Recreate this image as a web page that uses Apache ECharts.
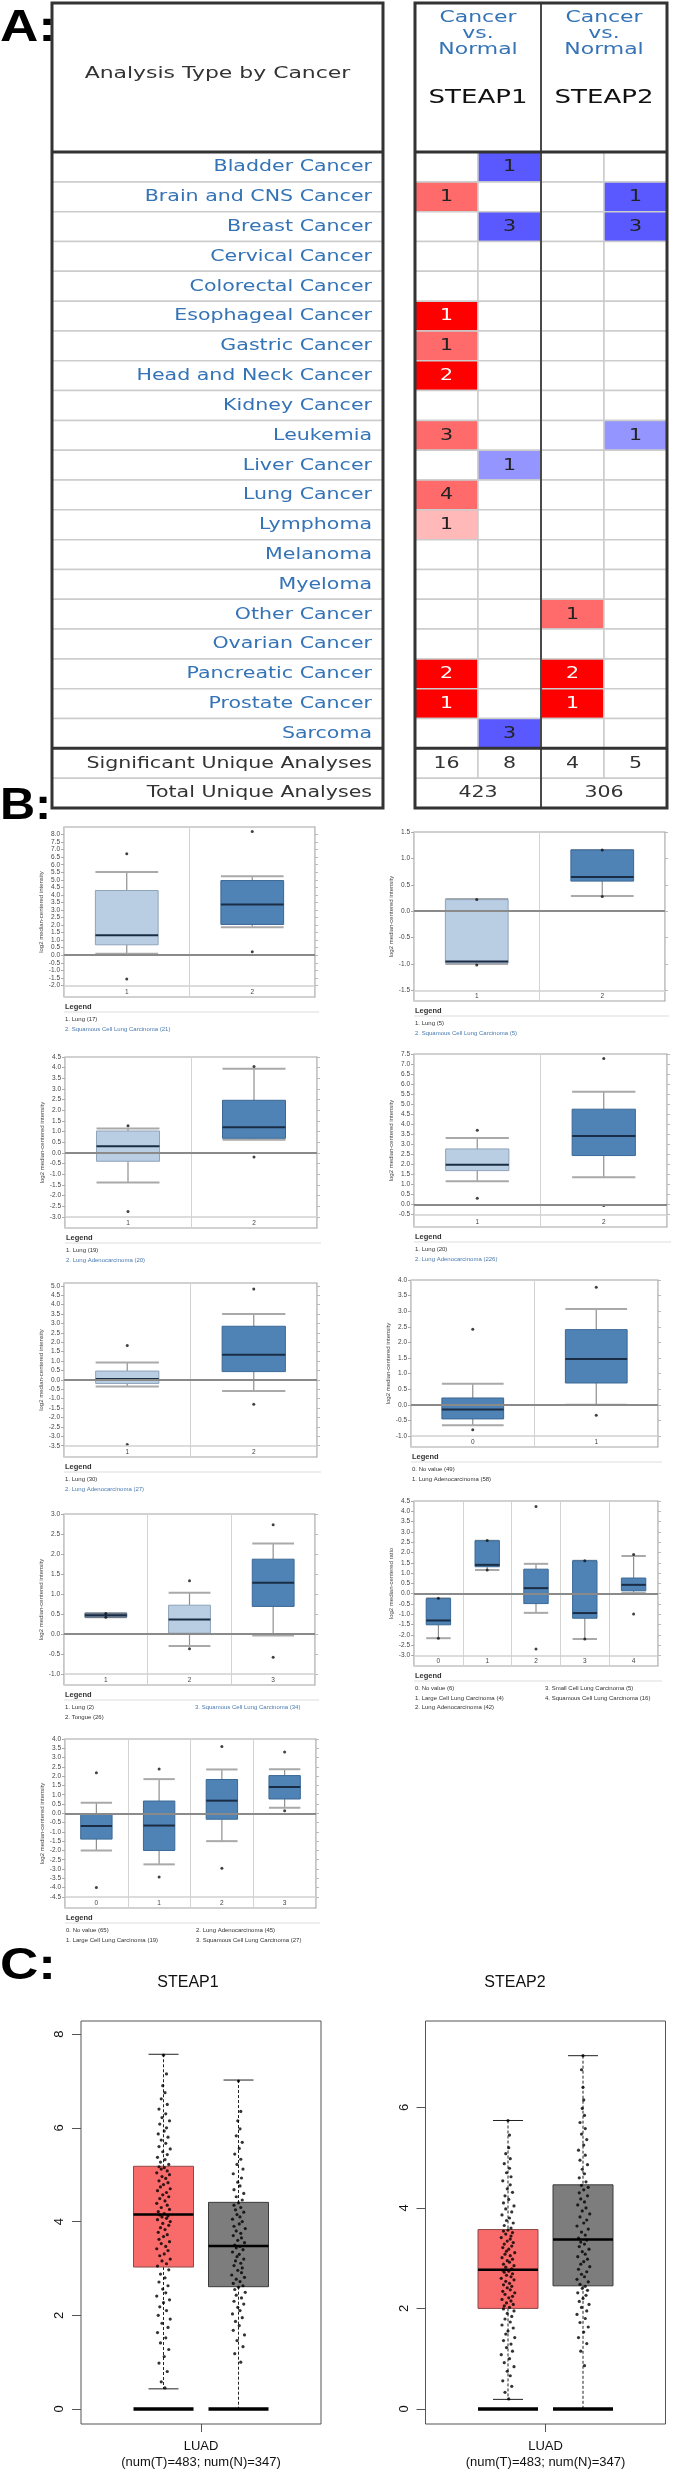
<!DOCTYPE html>
<html>
<head>
<meta charset="utf-8">
<script src="https://cdn.jsdelivr.net/npm/echarts@6/dist/echarts.min.js"></script>
<style>
html,body{margin:0;padding:0;background:#fff;}
#chart{width:680px;height:2480px;}
</style>
</head>
<body>
<div id="chart"></div>
<script>
// ======================= DATA =======================
// ---- Panel A: Oncomine summary (number of significant analyses) ----
const cancerTypes = ['Bladder Cancer','Brain and CNS Cancer','Breast Cancer','Cervical Cancer','Colorectal Cancer',
  'Esophageal Cancer','Gastric Cancer','Head and Neck Cancer','Kidney Cancer','Leukemia','Liver Cancer','Lung Cancer',
  'Lymphoma','Melanoma','Myeloma','Other Cancer','Ovarian Cancer','Pancreatic Cancer','Prostate Cancer','Sarcoma'];
const genes = ['STEAP1','STEAP2'];
const comparison = ['Cancer','vs.','Normal'];
const headerLeft = 'Analysis Type by Cancer';
const summaryLabels = ['Significant Unique Analyses','Total Unique Analyses'];
const steap1Up   = [null,1,null,null,null,1,1,2,null,3,null,4,1,null,null,null,null,2,1,null];
const steap1Down = [1,null,3,null,null,null,null,null,null,null,1,null,null,null,null,null,null,null,null,3];
const steap2Up   = [null,null,null,null,null,null,null,null,null,null,null,null,null,null,null,1,null,2,1,null];
const steap2Down = [null,1,3,null,null,null,null,null,null,1,null,null,null,null,null,null,null,null,null,null];
// gene-rank shade level (1 = top 1%, darkest ... 3 = lightest)
const steap1UpShade   = [0,2,0,0,0,1,2,1,0,2,0,2,3,0,0,0,0,1,1,0];
const steap1DownShade = [1,0,1,0,0,0,0,0,0,0,2,0,0,0,0,0,0,0,0,1];
const steap2UpShade   = [0,0,0,0,0,0,0,0,0,0,0,0,0,0,0,2,0,1,1,0];
const steap2DownShade = [0,1,1,0,0,0,0,0,0,2,0,0,0,0,0,0,0,0,0,0];
const significantUnique = [16,8,4,5];
const totalUnique = [423,306];

// ---- Panel B: Oncomine box plots [min, Q1, median, Q3, max] ----
const yTitleIntensity = 'log2 median-centered intensity';
const yTitleRatio = 'log2 median-centered ratio';

const b1Cats = ['1','2'];
const b1Box = [[0.09,0.69,1.33,4.29,5.52],[1.86,2.04,3.36,4.95,5.24]];
const b1Fill = ['light','dark'];
const b1Outliers = [[0,6.72],[0,-1.58],[1,8.2],[1,0.23]];
const b1Ticks = [-2,-1.5,-1,-0.5,0,0.5,1,1.5,2,2.5,3,3.5,4,4.5,5,5.5,6,6.5,7,7.5,8];
const b1Legend = ['1. Lung (17)','2. Squamous Cell Lung Carcinoma (21)'];

const b2Cats = ['1','2'];
const b2Box = [[-1.0,-0.98,-0.95,0.22,0.23],[0.29,0.57,0.65,1.16,1.16]];
const b2Fill = ['light','dark'];
const b2Outliers = [[0,0.22],[0,-1.02],[1,1.16],[1,0.28]];
const b2Ticks = [-1.5,-1,-0.5,0,0.5,1,1.5];
const b2Legend = ['1. Lung (5)','2. Squamous Cell Lung Carcinoma (5)'];

const b3Cats = ['1','2'];
const b3Box = [[-1.39,-0.39,0.31,1.03,1.15],[0.62,0.69,1.2,2.47,3.95]];
const b3Fill = ['light','dark'];
const b3Outliers = [[0,1.28],[0,-2.75],[1,4.05],[1,-0.19]];
const b3Ticks = [-3,-2.5,-2,-1.5,-1,-0.5,0,0.5,1,1.5,2,2.5,3,3.5,4,4.5];
const b3Legend = ['1. Lung (19)','2. Lung Adenocarcinoma (20)'];

const b4Cats = ['1','2'];
const b4Box = [[1.16,1.69,1.98,2.77,3.31],[1.36,2.44,3.42,4.75,5.62]];
const b4Fill = ['light','dark'];
const b4Outliers = [[0,3.7],[0,0.31],[1,7.28],[1,-0.05]];
const b4Ticks = [-0.5,0,0.5,1,1.5,2,2.5,3,3.5,4,4.5,5,5.5,6,6.5,7,7.5];
const b4Legend = ['1. Lung (20)','2. Lung Adenocarcinoma (226)'];

const b5Cats = ['1','2'];
const b5Box = [[-0.35,-0.19,0.04,0.47,0.93],[-0.59,0.44,1.34,2.85,3.5]];
const b5Fill = ['light','dark'];
const b5Outliers = [[0,1.83],[0,-3.43],[1,4.83],[1,-1.29]];
const b5Ticks = [-3.5,-3,-2.5,-2,-1.5,-1,-0.5,0,0.5,1,1.5,2,2.5,3,3.5,4,4.5,5];
const b5Legend = ['1. Lung (30)','2. Lung Adenocarcinoma (27)'];

const b6Cats = ['0','1'];
const b6Box = [[-0.65,-0.45,-0.15,0.22,0.68],[0.0,0.7,1.47,2.41,3.07]];
const b6Fill = ['dark','dark'];
const b6Outliers = [[0,2.42],[0,-0.8],[1,3.77],[1,-0.33]];
const b6Ticks = [-1,-0.5,0,0.5,1,1.5,2,2.5,3,3.5,4];
const b6Legend = ['0. No value (49)','1. Lung Adenocarcinoma (58)'];

const b7Cats = ['1','2','3'];
const b7Box = [[0.42,0.42,0.47,0.52,0.52],[-0.3,0.02,0.36,0.72,1.03],[-0.04,0.69,1.28,1.87,2.26]];
const b7Fill = ['gray','light','dark'];
const b7Outliers = [[0,0.51],[0,0.42],[1,1.33],[1,-0.37],[2,2.73],[2,-0.58]];
const b7Ticks = [-1,-0.5,0,0.5,1,1.5,2,2.5,3];
const b7Legend = ['1. Lung (2)','2. Tongue (26)','3. Squamous Cell Lung Carcinoma (34)'];

const b8Cats = ['0','1','2','3','4'];
const b8Box = [[-2.16,-1.51,-1.3,-0.24,-0.22],[1.15,1.31,1.4,2.57,2.57],[-0.93,-0.48,0.27,1.19,1.45],[-2.2,-1.19,-0.94,1.6,1.6],[0.03,0.14,0.43,0.76,1.83]];
const b8Fill = ['dark','dark','dark','dark','dark'];
const b8Outliers = [[0,-0.22],[0,-2.16],[1,2.58],[1,1.15],[2,4.23],[2,-2.69],[3,1.6],[3,-2.2],[4,1.9],[4,-0.98]];
const b8Ticks = [-3,-2.5,-2,-1.5,-1,-0.5,0,0.5,1,1.5,2,2.5,3,3.5,4,4.5];
const b8Legend = ['0. No value (6)','1. Large Cell Lung Carcinoma (4)','2. Lung Adenocarcinoma (42)','3. Small Cell Lung Carcinoma (5)','4. Squamous Cell Lung Carcinoma (16)'];

const b9Cats = ['0','1','2','3'];
const b9Box = [[-2.0,-1.39,-0.68,-0.02,0.57],[-2.75,-2.0,-0.66,0.66,1.84],[-1.5,-0.32,0.68,1.82,2.36],[0.3,0.77,1.41,2.03,2.37]];
const b9Fill = ['dark','dark','dark','dark'];
const b9Outliers = [[0,2.18],[0,-4.0],[1,2.39],[1,-3.43],[2,3.6],[2,-2.96],[3,3.3],[3,0.14]];
const b9Ticks = [-4.5,-4,-3.5,-3,-2.5,-2,-1.5,-1,-0.5,0,0.5,1,1.5,2,2.5,3,3.5,4];
const b9Legend = ['0. No value (65)','1. Large Cell Lung Carcinoma (19)','2. Lung Adenocarcinoma (45)','3. Squamous Cell Lung Carcinoma (27)'];

// ---- Panel C: GEPIA LUAD box plots [min, Q1, median, Q3, max]; groups: Tumor, Normal ----
const cohort = 'LUAD';
const numTumor = 483, numNormal = 347;
const c1Title = 'STEAP1', c2Title = 'STEAP2';
const c1Box = [[0.43,3.03,4.15,5.18,7.57],[0,2.61,3.48,4.41,7.02]];
const c2Box = [[0.19,2.0,2.77,3.57,5.74],[0,2.45,3.37,4.46,7.03]];
const c1Zero = [0,0];
const c2Zero = [0,0];
const c1Ticks = [0,2,4,6,8];
const c2Ticks = [0,2,4,6];
// jittered samples [horizontal jitter, expression]
const c1TumorPts = [[.02,0.45],[-.03,0.58],[.05,0.8],[-.06,0.98],[.01,1.12],[.07,1.27],[-.04,1.41],[.03,1.52],[-.08,1.63],[.06,1.74],[-.02,1.83],[.09,1.92],[-.07,2.0],[.04,2.1],[-.05,2.18],[.0,2.27],[.08,2.33],[-.09,2.41],[.03,2.48],[-.01,2.56],[.06,2.63],[-.06,2.71],[.02,2.8],[-.04,2.88],[.07,2.97],
 [-.08,3.05],[.04,3.1],[-.02,3.16],[.09,3.2],[-.05,3.27],[.01,3.31],[.06,3.38],[-.09,3.42],[.03,3.47],[-.03,3.53],[.08,3.57],[-.06,3.62],[.0,3.68],[.05,3.72],[-.07,3.77],[.02,3.83],[-.04,3.87],[.07,3.92],[-.01,3.96],[.09,4.0],[-.08,4.04],[.04,4.07],[-.02,4.1],[.06,4.12],[-.05,4.14],
 [.01,4.17],[-.07,4.21],[.08,4.26],[-.03,4.3],[.05,4.35],[-.09,4.39],[.02,4.44],[-.05,4.49],[.07,4.53],[-.01,4.57],[.04,4.62],[-.08,4.66],[.09,4.7],[-.04,4.74],[.0,4.79],[.06,4.83],[-.06,4.87],[.03,4.92],[-.02,4.96],[.08,5.0],[-.09,5.04],[.05,5.08],[-.03,5.12],[.01,5.15],[-.06,5.17],
 [.07,5.22],[-.04,5.27],[.02,5.32],[-.08,5.37],[.05,5.43],[-.01,5.49],[.09,5.55],[-.06,5.6],[.03,5.67],[-.03,5.74],[.06,5.8],[-.07,5.87],[.01,5.93],[.04,6.0],[-.05,6.08],[.08,6.15],[-.02,6.22],[.03,6.3],[-.06,6.4],[.05,6.5],[-.03,6.62],[.02,6.75],[-.01,6.9],[.04,7.15],[.0,7.55]];
const c1NormalPts = [[.03,1.0],[-.05,1.18],[.06,1.33],[-.02,1.46],[.08,1.58],[-.07,1.68],[.01,1.78],[-.04,1.87],[.05,1.95],[-.08,2.03],[.02,2.1],[-.01,2.17],[.07,2.24],[-.06,2.3],[.04,2.37],[-.03,2.43],[.09,2.49],[-.05,2.55],[.0,2.6],
 [.06,2.63],[-.07,2.68],[.02,2.72],[-.03,2.77],[.08,2.81],[-.09,2.86],[.04,2.91],[-.01,2.96],[.05,3.01],[-.06,3.06],[.03,3.11],[-.04,3.16],[.07,3.2],[-.02,3.25],[.01,3.3],[-.08,3.35],[.06,3.4],[-.03,3.44],[.02,3.47],
 [-.05,3.5],[.08,3.55],[-.01,3.6],[.04,3.65],[-.07,3.7],[.03,3.75],[-.03,3.8],[.09,3.85],[-.06,3.9],[.01,3.95],[.05,4.0],[-.08,4.05],[.02,4.1],[-.02,4.15],[.07,4.2],[-.04,4.25],[.03,4.3],[-.06,4.35],[.0,4.4],
 [.05,4.46],[-.03,4.53],[.07,4.6],[-.06,4.68],[.02,4.76],[-.01,4.84],[.04,4.93],[-.07,5.02],[.06,5.12],[-.02,5.22],[.03,5.33],[-.05,5.44],[.01,5.56],[.05,5.69],[-.03,5.83],[.02,5.98],[-.01,6.15],[.03,6.35],[.0,7.0]];
const c2TumorPts = [[.01,0.2],[-.04,0.33],[.05,0.45],[-.07,0.56],[.03,0.66],[-.01,0.75],[.08,0.84],[-.05,0.92],[.02,1.0],[-.09,1.08],[.06,1.15],[-.02,1.22],[.04,1.29],[-.06,1.36],[.09,1.42],[-.03,1.49],[.0,1.55],[.07,1.61],[-.08,1.67],[.03,1.73],[-.04,1.79],[.05,1.84],[-.01,1.9],[.08,1.95],[-.06,1.99],
 [.02,2.02],[-.05,2.05],[.07,2.08],[-.02,2.11],[.04,2.15],[-.08,2.18],[.01,2.21],[.06,2.24],[-.04,2.28],[.09,2.31],[-.07,2.34],[.03,2.37],[-.01,2.41],[.05,2.44],[-.06,2.47],[.02,2.5],[-.03,2.54],[.08,2.57],[-.09,2.6],[.04,2.63],[-.02,2.66],[.06,2.69],[-.05,2.72],[.01,2.74],[-.07,2.76],
 [.05,2.79],[-.03,2.82],[.08,2.85],[-.06,2.88],[.02,2.92],[-.01,2.95],[.06,2.98],[-.08,3.01],[.03,3.05],[-.04,3.08],[.09,3.11],[-.02,3.14],[.01,3.18],[-.07,3.21],[.05,3.24],[-.05,3.28],[.07,3.31],[-.01,3.34],[.03,3.38],[-.09,3.41],[.04,3.44],[-.03,3.48],[.06,3.51],[-.06,3.54],[.0,3.56],
 [.04,3.6],[-.05,3.65],[.07,3.7],[-.02,3.75],[.02,3.8],[-.08,3.86],[.05,3.92],[-.03,3.98],[.08,4.04],[-.06,4.1],[.01,4.17],[-.04,4.24],[.06,4.31],[-.01,4.38],[.03,4.46],[-.07,4.54],[.04,4.62],[-.02,4.7],[.02,4.79],[-.05,4.88],[.03,4.98],[-.03,5.08],[.01,5.2],[.02,5.45],[.0,5.74]];
const c2NormalPts = [[.02,0.86],[-.03,1.15],[.05,1.3],[-.06,1.42],[.01,1.53],[.07,1.63],[-.04,1.72],[.03,1.8],[-.08,1.88],[.05,1.95],[-.02,2.02],[.08,2.08],[-.05,2.14],[.0,2.2],[.04,2.26],[-.07,2.31],[.06,2.36],[-.01,2.4],[.03,2.44],
 [-.04,2.48],[.07,2.53],[-.08,2.58],[.02,2.63],[-.02,2.68],[.05,2.73],[-.06,2.78],[.09,2.83],[-.03,2.88],[.01,2.93],[.06,2.98],[-.07,3.03],[.03,3.08],[-.01,3.13],[.08,3.18],[-.05,3.23],[.02,3.28],[-.03,3.32],[.05,3.36],
 [-.06,3.4],[.03,3.46],[-.02,3.52],[.07,3.58],[-.08,3.64],[.01,3.7],[.05,3.76],[-.04,3.82],[.09,3.88],[-.01,3.94],[.04,4.0],[-.07,4.06],[.02,4.12],[-.03,4.18],[.06,4.24],[-.05,4.3],[.01,4.36],[.07,4.41],[-.02,4.45],
 [.04,4.52],[-.05,4.6],[.02,4.68],[-.01,4.77],[.06,4.86],[-.04,4.95],[.03,5.05],[-.06,5.15],[.01,5.25],[.05,5.36],[-.02,5.47],[.03,5.58],[-.04,5.7],[.02,5.84],[-.01,5.98],[.01,6.15],[.0,6.4],[-.02,6.75],[.0,7.03]];

// ======================= BUILD =======================
const chart = echarts.init(document.getElementById('chart'), null, {renderer:'canvas', width:680, height:2480});
const grids = [], xAxes = [], yAxes = [], series = [], graphics = [];

function addGrid(grid, xAxis, yList){
  grids.push(grid); const gi = grids.length - 1;
  xAxis.gridIndex = gi; xAxis.axisLine = Object.assign({onZero:false}, xAxis.axisLine || {});
  xAxes.push(xAxis); const xi = xAxes.length - 1;
  const yis = yList.map(y => { y.gridIndex = gi; y.axisLine = Object.assign({onZero:false}, y.axisLine || {}); yAxes.push(y); return yAxes.length - 1; });
  return {gi, xi, yi: yis[0], yis};
}
function txt(x, y, text, font, fill, align, vAlign, sx){
  return {type:'text', x:x, y:y, scaleX: sx || 1, silent:true,
    style:{text:text, font:font, fill:fill, align:align, textAlign:align,
           verticalAlign:vAlign || 'middle', textVerticalAlign:vAlign || 'middle'}};
}
function line(x1,y1,x2,y2,stroke,w,dash){
  const s = {stroke:stroke, lineWidth:w};
  if (dash) s.lineDash = dash;
  return {type:'line', shape:{x1,y1,x2,y2}, style:s};
}

// ---------- Panel A ----------
const A_SX = 1.37, A_FONT = '"DejaVu Sans"', A_BLUE = '#3473b5', A_DARK = '#333';
const RED_SHADE = [null,'#ff0000','#ff6b6b','#ffb9b9'];
const BLUE_SHADE = [null,'#5959ff','#9595ff','#c6c6ff'];
const A_ROWS = cancerTypes.length;
const A_YMIN = -5, A_YMAX = A_ROWS + 2;
const A_HDR_Y = [-4.495,-3.958,-3.44], A_GENE_Y = -1.82, A_LEFT_HDR_Y = -2.62;
const upDown = [steap1Up, steap1Down, steap2Up, steap2Down];
const shades = [steap1UpShade, steap1DownShade, steap2UpShade, steap2DownShade];

const aL = addGrid({left:52, top:3, width:331, height:805},
  {type:'value', min:0, max:1, show:false},
  [{type:'value', min:A_YMIN, max:A_YMAX, inverse:true, show:false}]);
const aR = addGrid({left:415, top:3, width:252, height:805},
  {type:'value', min:0, max:4, show:false},
  [{type:'value', min:A_YMIN, max:A_YMAX, inverse:true, show:false}]);

const leftRows = cancerTypes.concat(summaryLabels);
series.push({type:'custom', xAxisIndex:aL.xi, yAxisIndex:aL.yi, z:2, silent:true, animation:false,
  data: leftRows.map((t,i) => [0.5, i + 0.5]),
  renderItem(p, api){
    const i = p.dataIndex;
    const tl = api.coord([0, i]), br = api.coord([1, i + 1]);
    return {type:'group', children:[
      {type:'rect', shape:{x:tl[0], y:tl[1], width:br[0]-tl[0], height:br[1]-tl[1]}, style:{fill:'#fff', stroke:'#cccccc', lineWidth:1.5}},
      txt(br[0] - 11, (tl[1] + br[1]) / 2 + 0.5, leftRows[i], '15px ' + A_FONT, i < A_ROWS ? A_BLUE : A_DARK, 'right', 'middle', A_SX)
    ]};
  }});
series.push({type:'custom', xAxisIndex:aL.xi, yAxisIndex:aL.yi, z:5, silent:true, animation:false,
  data:[[0.5, 0]],
  renderItem(p, api){
    const tl = api.coord([0, A_YMIN]), br = api.coord([1, A_YMAX]);
    const y0 = api.coord([0, 0])[1], y20 = api.coord([0, A_ROWS])[1];
    const hc = api.coord([0.5, A_LEFT_HDR_Y]);
    return {type:'group', children:[
      line(tl[0], y0, br[0], y0, '#333', 3),
      line(tl[0], y20, br[0], y20, '#333', 3),
      {type:'rect', shape:{x:tl[0], y:tl[1], width:br[0]-tl[0], height:br[1]-tl[1]}, style:{fill:'none', stroke:'#333', lineWidth:3}},
      txt(hc[0], hc[1], headerLeft, '16px ' + A_FONT, '#333', 'center', 'middle', A_SX)
    ]};
  }});

const cellItems = [];
for (let r = 0; r < A_ROWS; r++) for (let c = 0; c < 4; c++) cellItems.push({c, r, w:1, n:upDown[c][r], s:shades[c][r], sum:false});
significantUnique.forEach((n, c) => cellItems.push({c, r:A_ROWS, w:1, n, s:0, sum:true}));
totalUnique.forEach((n, g) => cellItems.push({c:g * 2, r:A_ROWS + 1, w:2, n, s:0, sum:true}));
series.push({type:'custom', xAxisIndex:aR.xi, yAxisIndex:aR.yi, z:2, silent:true, animation:false,
  data: cellItems.map(it => [it.c + it.w / 2, it.r + 0.5]),
  renderItem(p, api){
    const it = cellItems[p.dataIndex];
    const tl = api.coord([it.c, it.r]), br = api.coord([it.c + it.w, it.r + 1]);
    let fill = '#fff', tcol = '#222';
    if (!it.sum && it.n != null) {
      fill = (it.c % 2 === 0 ? RED_SHADE : BLUE_SHADE)[it.s];
      if (it.c % 2 === 0 && it.s === 1) tcol = '#fff';
    }
    if (it.sum) tcol = '#333';
    const ch = [{type:'rect', shape:{x:tl[0], y:tl[1], width:br[0]-tl[0], height:br[1]-tl[1]}, style:{fill:fill, stroke:'#cccccc', lineWidth:1.5}}];
    if (it.n != null) ch.push(txt((tl[0] + br[0]) / 2, (tl[1] + br[1]) / 2 + 0.5, String(it.n), '15px ' + A_FONT, tcol, 'center', 'middle', A_SX));
    return {type:'group', children:ch};
  }});
series.push({type:'custom', xAxisIndex:aR.xi, yAxisIndex:aR.yi, z:5, silent:true, animation:false,
  data:[[2, 0]],
  renderItem(p, api){
    const tl = api.coord([0, A_YMIN]), br = api.coord([4, A_YMAX]);
    const y0 = api.coord([0, 0])[1], y20 = api.coord([0, A_ROWS])[1];
    const xm = api.coord([2, 0])[0];
    const ch = [
      line(xm, tl[1], xm, br[1], '#4a4a4a', 2),
      line(tl[0], y0, br[0], y0, '#333', 3),
      line(tl[0], y20, br[0], y20, '#333', 3),
      {type:'rect', shape:{x:tl[0], y:tl[1], width:br[0]-tl[0], height:br[1]-tl[1]}, style:{fill:'none', stroke:'#333', lineWidth:3}}
    ];
    genes.forEach((g, k) => {
      const cx = api.coord([2 * k + 1, 0])[0];
      comparison.forEach((w, j) => ch.push(txt(cx, api.coord([0, A_HDR_Y[j]])[1], w, '16px ' + A_FONT, A_BLUE, 'center', 'middle', A_SX)));
      ch.push(txt(cx, api.coord([0, A_GENE_Y])[1], g, '19px ' + A_FONT, '#111', 'center', 'middle', A_SX));
    });
    return {type:'group', children:ch};
  }});

// ---------- Panel B ----------
const B_FILL = {light:['#b9cde3','#8fa3b9'], dark:['#4f83b6','#3a6895'], gray:['#8096ad','#56687c']};
const B_DATA = [
  {cats:b1Cats, box:b1Box, fill:b1Fill, out:b1Outliers, ticks:b1Ticks, yName:yTitleIntensity, legend:b1Legend},
  {cats:b2Cats, box:b2Box, fill:b2Fill, out:b2Outliers, ticks:b2Ticks, yName:yTitleIntensity, legend:b2Legend},
  {cats:b3Cats, box:b3Box, fill:b3Fill, out:b3Outliers, ticks:b3Ticks, yName:yTitleIntensity, legend:b3Legend},
  {cats:b4Cats, box:b4Box, fill:b4Fill, out:b4Outliers, ticks:b4Ticks, yName:yTitleIntensity, legend:b4Legend},
  {cats:b5Cats, box:b5Box, fill:b5Fill, out:b5Outliers, ticks:b5Ticks, yName:yTitleIntensity, legend:b5Legend},
  {cats:b6Cats, box:b6Box, fill:b6Fill, out:b6Outliers, ticks:b6Ticks, yName:yTitleIntensity, legend:b6Legend},
  {cats:b7Cats, box:b7Box, fill:b7Fill, out:b7Outliers, ticks:b7Ticks, yName:yTitleIntensity, legend:b7Legend},
  {cats:b8Cats, box:b8Box, fill:b8Fill, out:b8Outliers, ticks:b8Ticks, yName:yTitleRatio, legend:b8Legend},
  {cats:b9Cats, box:b9Box, fill:b9Fill, out:b9Outliers, ticks:b9Ticks, yName:yTitleIntensity, legend:b9Legend}
];
const B_LAYOUT = [
  {x0:64,  x1:315, y0:827,  y1:997,  min:-2.77, max:8.5,  legRows:9, legHi:1},
  {x0:414, x1:665, y0:832,  y1:1001, min:-1.70, max:1.5,  legRows:9, legHi:1},
  {x0:65,  x1:317, y0:1057, y1:1228, min:-3.52, max:4.5,  legRows:9, legHi:1},
  {x0:414, x1:667, y0:1054, y1:1227, min:-1.12, max:7.5,  legRows:9, legHi:1},
  {x0:64,  x1:317, y0:1283, y1:1457, min:-4.1,  max:5.15, legRows:9, legHi:1},
  {x0:411, x1:658, y0:1280, y1:1447, min:-1.35, max:4.0,  legRows:9, legHi:-1},
  {x0:64,  x1:315, y0:1514, y1:1685, min:-1.275,max:3.0,  legRows:2, legHi:2},
  {x0:414, x1:658, y0:1501, y1:1666, min:-3.51, max:4.5,  legRows:3, legHi:-1},
  {x0:65,  x1:316, y0:1739, y1:1908, min:-5.1,  max:4.0,  legRows:2, legHi:-1}
];
const B_FONT = '"Liberation Sans"';

B_DATA.forEach((D, i) => {
  const L = B_LAYOUT[i];
  const ax = addGrid({left:L.x0, top:L.y0, width:L.x1 - L.x0, height:L.y1 - L.y0, show:true, borderColor:'#a3a3a3', borderWidth:1.2, backgroundColor:'#fff'},
    {type:'category', data:D.cats, boundaryGap:true, position:'bottom', axisLine:{show:false}, axisTick:{show:false},
     axisLabel:{inside:true, margin:1.5, fontSize:6.5, color:'#444', fontFamily:'Liberation Sans'},
     splitLine:{show:true, interval:0, lineStyle:{color:'#d3d3d3', width:1}}},
    [{type:'value', min:L.min, max:L.max, position:'left', name:D.yName, nameLocation:'middle', nameGap:20, nameRotate:90,
      nameTextStyle:{fontSize:6, color:'#444', fontFamily:'Liberation Sans'},
      axisLine:{show:false}, splitLine:{show:false},
      axisTick:{show:true, customValues:D.ticks, length:3, lineStyle:{color:'#aaa'}},
      axisLabel:{show:true, customValues:D.ticks, formatter:v => Number(v).toFixed(1), fontSize:6.5, color:'#444', margin:4, fontFamily:'Liberation Sans'}},
     {type:'value', position:'right', min:L.min, max:L.max, axisLine:{show:false}, splitLine:{show:false},
      axisTick:{show:true, customValues:D.ticks, length:3, lineStyle:{color:'#bbb'}}, axisLabel:{show:false}}]);
  series.push({type:'custom', xAxisIndex:ax.xi, yAxisIndex:ax.yi, z:2, silent:true, animation:false,
    data: D.box.map((b, c) => [c].concat(b)),
    encode:{x:0, y:[1,2,3,4,5]},
    renderItem(p, api){
      const c = p.dataIndex, b = D.box[c];
      const xc = api.coord([c, 0])[0];
      const bw = api.size([1, 0])[0] * 0.5;
      const Y = v => api.coord([c, v])[1];
      const col = B_FILL[D.fill[c]];
      return {type:'group', children:[
        line(xc, Y(b[4]), xc, Y(b[3]), '#8f8f8f', 1.2),
        line(xc, Y(b[1]), xc, Y(b[0]), '#8f8f8f', 1.2),
        line(xc - bw / 2, Y(b[4]), xc + bw / 2, Y(b[4]), '#a9a9a9', 2),
        line(xc - bw / 2, Y(b[0]), xc + bw / 2, Y(b[0]), '#a9a9a9', 2),
        {type:'rect', shape:{x:xc - bw / 2, y:Y(b[3]), width:bw, height:Math.max(Y(b[1]) - Y(b[3]), 1)}, style:{fill:col[0], stroke:col[1], lineWidth:1}},
        line(xc - bw / 2, Y(b[2]), xc + bw / 2, Y(b[2]), '#1b2d44', 2)
      ]};
    },
    markLine:{silent:true, symbol:['none','none'], label:{show:false}, animation:false,
      data:[{yAxis:D.ticks[0], lineStyle:{color:'#d0d0d0', width:1.5, type:'solid'}},
            {yAxis:0, lineStyle:{color:'#8a8a8a', width:2, type:'solid'}}]}
  });
  series.push({type:'scatter', xAxisIndex:ax.xi, yAxisIndex:ax.yi, z:4, silent:true, animation:false,
    data:D.out, symbol:'circle', symbolSize:3, itemStyle:{color:'#111'}});
  // legend block
  const ly = L.y1;
  graphics.push(txt(L.x0 + 1, ly + 10, 'Legend', 'bold 7.5px ' + B_FONT, '#333', 'left', 'middle', 1));
  graphics.push(Object.assign(line(L.x0, ly + 15, L.x1 + 4, ly + 15, '#dddddd', 1), {silent:true}));
  D.legend.forEach((t, k) => {
    const col = Math.floor(k / L.legRows), row = k % L.legRows;
    graphics.push(txt(L.x0 + 1 + col * 130, ly + 22.5 + row * 9.5, t, '6px ' + B_FONT, k === L.legHi ? '#4a7ab0' : '#333', 'left', 'middle', 1));
  });
});

// ---------- Panel C ----------
const C_POS = [-0.5, 0.5], C_BOXW = 0.8;
const C_COLORS = [['#f96a6a','#8e4a4a'], ['#7d7d7d','#3c3c3c']];
const C_DATA = [
  {title:c1Title, box:c1Box, zero:c1Zero, tumor:c1TumorPts, normal:c1NormalPts, ticks:c1Ticks},
  {title:c2Title, box:c2Box, zero:c2Zero, tumor:c2TumorPts, normal:c2NormalPts, ticks:c2Ticks}
];
const C_LAYOUT = [
  {x0:81,    x1:321,   y0:2021, y1:2424, min:-0.32, max:8.28, titleX:188},
  {x0:425.5, x1:665.5, y0:2021, y1:2424, min:-0.30, max:7.72, titleX:515}
];
const C_FONT = '"Liberation Sans"';
C_DATA.forEach((D, i) => {
  const L = C_LAYOUT[i];
  const ax = addGrid({left:L.x0, top:L.y0, width:L.x1 - L.x0, height:L.y1 - L.y0, show:true, borderColor:'#555', borderWidth:1, backgroundColor:'#fff'},
    {type:'value', min:-1.6, max:1.6, position:'bottom', axisLine:{show:false}, splitLine:{show:false},
     axisTick:{show:true, customValues:[0], length:8, lineStyle:{color:'#555'}},
     axisLabel:{show:true, customValues:[0], formatter:() => cohort + '\n(num(T)=' + numTumor + '; num(N)=' + numNormal + ')',
       fontSize:13, lineHeight:16.5, color:'#111', margin:14, fontFamily:'Liberation Sans'}},
    [{type:'value', min:L.min, max:L.max, position:'left', axisLine:{show:false}, splitLine:{show:false},
      axisTick:{show:true, customValues:D.ticks, length:9, lineStyle:{color:'#555'}},
      axisLabel:{show:true, customValues:D.ticks, rotate:90, fontSize:13, color:'#111', margin:15, fontFamily:'Liberation Sans'}}]);
  series.push({type:'custom', xAxisIndex:ax.xi, yAxisIndex:ax.yi, z:2, silent:true, animation:false,
    data: D.box.map((b, g) => [C_POS[g], b[0], b[4]]),
    encode:{x:0, y:[1,2]},
    renderItem(p, api){
      const g = p.dataIndex, b = D.box[g];
      const xc = api.coord([C_POS[g], 0])[0];
      const hw = api.coord([C_POS[g] + C_BOXW / 2, 0])[0] - xc;
      const Y = v => api.coord([C_POS[g], v])[1];
      const col = C_COLORS[g];
      return {type:'group', children:[
        line(xc, Y(b[4]), xc, Y(b[3]), '#222', 1, [3,2]),
        line(xc, Y(b[1]), xc, Y(b[0]), '#222', 1, [3,2]),
        line(xc - hw / 2, Y(b[4]), xc + hw / 2, Y(b[4]), '#222', 1),
        line(xc - hw / 2, Y(b[0]), xc + hw / 2, Y(b[0]), '#222', 1),
        {type:'rect', shape:{x:xc - hw, y:Y(b[3]), width:2 * hw, height:Y(b[1]) - Y(b[3])}, style:{fill:col[0], stroke:col[1], lineWidth:1}},
        line(xc - hw, Y(b[2]), xc + hw, Y(b[2]), '#000', 2.5)
      ]};
    }});
  const pts = D.tumor.map(q => [C_POS[0] + q[0], q[1]]).concat(D.normal.map(q => [C_POS[1] + q[0], q[1]]));
  series.push({type:'scatter', xAxisIndex:ax.xi, yAxisIndex:ax.yi, z:3, silent:true, animation:false,
    data:pts, symbol:'circle', symbolSize:3.2, itemStyle:{color:'#000'}});
  series.push({type:'custom', xAxisIndex:ax.xi, yAxisIndex:ax.yi, z:4, silent:true, animation:false,
    data: D.zero.map((z, g) => [C_POS[g], z]),
    renderItem(p, api){
      const g = p.dataIndex;
      const xc = api.coord([C_POS[g], 0])[0];
      const hw = api.coord([C_POS[g] + C_BOXW / 2, 0])[0] - xc;
      const y = api.coord([C_POS[g], D.zero[g]])[1];
      return line(xc - hw, y, xc + hw, y, '#000', 3.5);
    }});
  graphics.push(txt(L.titleX, 1983, D.title, '16px ' + C_FONT, '#111', 'center', 'middle', 1));
});

// ---------- panel letters ----------
graphics.push(txt(0, 29, 'A:', 'bold 45px "Liberation Sans"', '#000', 'left', 'middle', 1.18));
graphics.push(txt(0, 807, 'B:', 'bold 45px "Liberation Sans"', '#000', 'left', 'middle', 1.08));
graphics.push(txt(0, 1967, 'C:', 'bold 45px "Liberation Sans"', '#000', 'left', 'middle', 1.18));

chart.setOption({
  animation:false,
  backgroundColor:'#fff',
  grid:grids, xAxis:xAxes, yAxis:yAxes, series:series,
  graphic:{elements:graphics}
});
</script>
</body>
</html>
